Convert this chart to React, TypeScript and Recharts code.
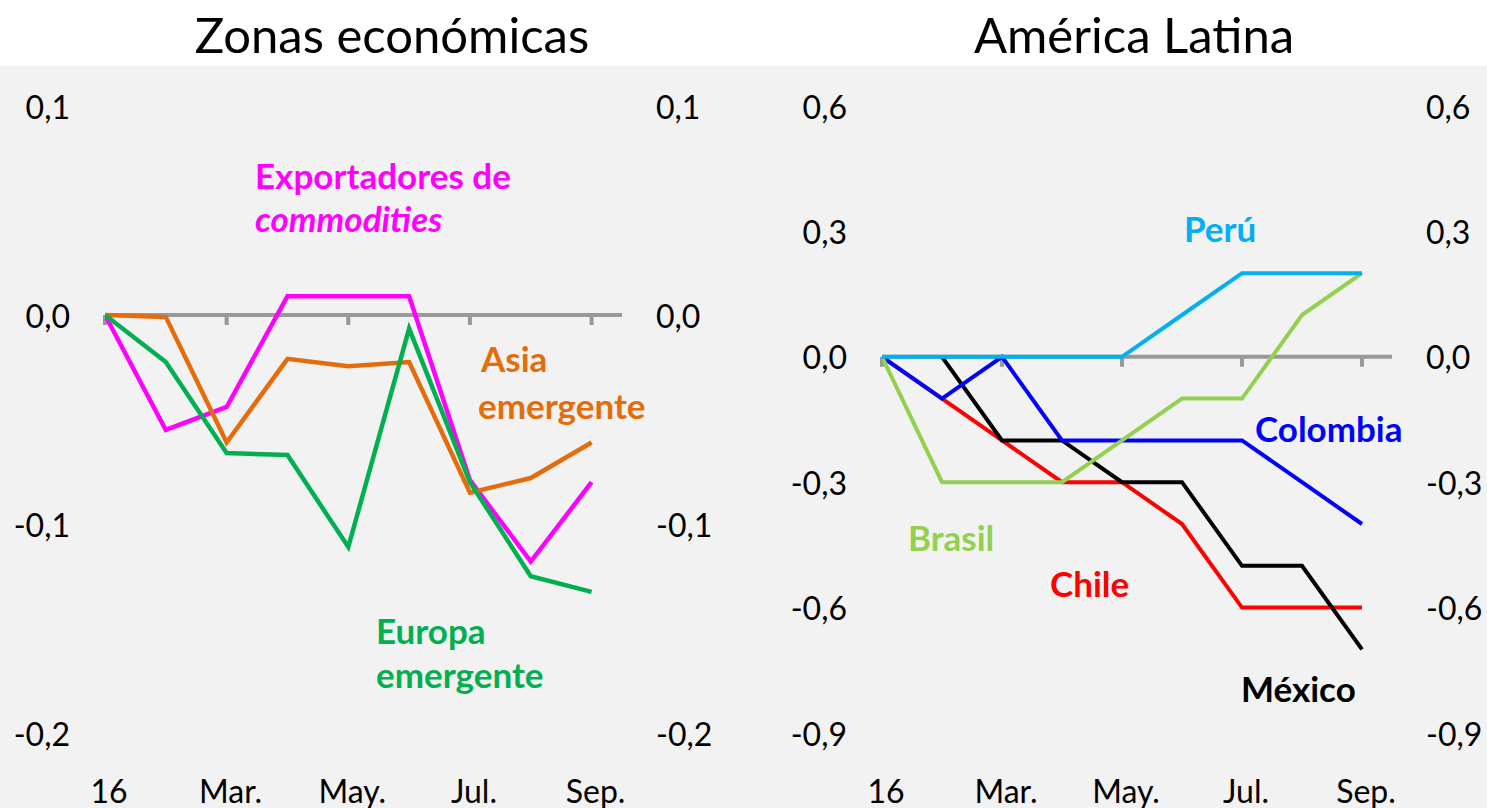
import { LineChart, Line, XAxis, YAxis, ReferenceLine } from 'recharts';

const monthLabels = ['16', 'Feb.', 'Mar.', 'Abr.', 'May.', 'Jun.', 'Jul.', 'Ago.', 'Sep.'];
const xTicks = [0, 2, 4, 6, 8];

// Zonas económicas
const exportadores = [0, -0.055, -0.044, 0.009, 0.009, 0.009, -0.079, -0.118, -0.080];
const asiaEmergente = [0, -0.001, -0.061, -0.021, -0.0245, -0.0225, -0.085, -0.078, -0.061];
const europaEmergente = [0, -0.0225, -0.066, -0.067, -0.111, -0.0065, -0.080, -0.125, -0.1325];
const leftTicks = [-0.2, -0.1, 0, 0.1];

// América Latina
const peru = [0, 0, 0, 0, 0, 0.1, 0.2, 0.2, 0.2];
const brasil = [0, -0.3, -0.3, -0.3, -0.2, -0.1, -0.1, 0.1, 0.2];
const colombia = [0, -0.1, 0, -0.2, -0.2, -0.2, -0.2, -0.3, -0.4];
const chile = [0, -0.1, -0.2, -0.3, -0.3, -0.4, -0.6, -0.6, -0.6];
const mexico = [null, 0, -0.2, -0.2, -0.3, -0.3, -0.5, -0.5, -0.7];
const rightTicks = [-0.9, -0.6, -0.3, 0, 0.3, 0.6];

const zonasData = monthLabels.map((_, i) => ({
  m: i,
  exportadores: exportadores[i],
  asia: asiaEmergente[i],
  europa: europaEmergente[i],
}));

const latamData = monthLabels.map((_, i) => ({
  m: i,
  peru: peru[i],
  brasil: brasil[i],
  colombia: colombia[i],
  chile: chile[i],
  mexico: mexico[i],
}));

const FONT = 'Lato, "Open Sans", sans-serif';
const CHART_H = 742;
const PLOT_TOP = 40;
const X_AXIS_H = 75;
const PLOT_H = CHART_H - PLOT_TOP - X_AXIS_H;

const fmt = (v: number) => v.toFixed(1).replace('.', ',');

function YTick({ y, payload, tx, anchor }: any) {
  return (
    <text x={tx} y={y} textAnchor={anchor} dominantBaseline="central" fontSize={32} fill="#000" fontFamily={FONT}>
      {fmt(payload.value)}
    </text>
  );
}

function XTick({ x, payload }: any) {
  return (
    <text x={x + 4} y={CHART_H - 18} textAnchor="middle" dominantBaseline="central" fontSize={32} fill="#000" fontFamily={FONT}>
      {monthLabels[payload.value]}
    </text>
  );
}

function tickMarks(domain: [number, number]) {
  const len = ((domain[1] - domain[0]) * 10) / PLOT_H;
  return xTicks.map((t) => (
    <ReferenceLine
      key={t}
      yAxisId="l"
      segment={[{ x: t, y: 0 }, { x: t, y: -len }]}
      stroke="#999"
      strokeWidth={4}
    />
  ));
}

function Label({ text, x, y, color, italic }: any) {
  return (
    <div
      style={{
        position: 'absolute',
        left: x,
        top: y,
        color,
        fontFamily: FONT,
        fontWeight: 700,
        fontStyle: italic ? 'italic' : 'normal',
        fontSize: 35,
        lineHeight: '36px',
        whiteSpace: 'nowrap',
      }}
    >
      {text}
    </div>
  );
}

export default function App() {
  const lDom: [number, number] = [-0.2, 0.1];
  const rDom: [number, number] = [-0.9, 0.6];
  return (
    <div style={{ position: 'absolute', left: 0, top: 0, width: 1487, height: 808, background: '#fff', overflow: 'hidden' }}>
      <div style={{ position: 'absolute', left: 0, top: 66, width: 1487, height: 742, background: '#f2f2f2' }} />
      <div style={{ position: 'absolute', left: 0, width: 784, top: 3, textAlign: 'center', fontFamily: FONT, fontSize: 49, lineHeight: '62px' }}>
        Zonas económicas
      </div>
      <div style={{ position: 'absolute', left: 743, width: 782, top: 3, textAlign: 'center', fontFamily: FONT, fontSize: 49, lineHeight: '62px' }}>
        América Latina
      </div>

      <div style={{ position: 'absolute', left: 0, top: 66 }}>
        <LineChart width={743} height={CHART_H} data={zonasData} margin={{ top: PLOT_TOP, right: 0, bottom: 0, left: 0 }}>
          <XAxis type="number" dataKey="m" domain={[0, 8.5]} ticks={xTicks} axisLine={false} tickLine={false} height={X_AXIS_H} tick={<XTick />} allowDataOverflow />
          <YAxis yAxisId="l" domain={lDom} ticks={leftTicks} width={105} axisLine={false} tickLine={false} tick={<YTick tx={70} anchor="end" />} />
          <YAxis yAxisId="r" orientation="right" domain={lDom} ticks={leftTicks} width={121} axisLine={false} tickLine={false} tick={<YTick tx={656} anchor="start" />} />
          <ReferenceLine yAxisId="l" y={0} stroke="#999" strokeWidth={4} />
          {tickMarks(lDom)}
          <Line yAxisId="r" dataKey="asia" stroke="none" strokeWidth={0} dot={false} activeDot={false} legendType="none" isAnimationActive={false} />
          <Line yAxisId="l" dataKey="exportadores" stroke="#FF00FF" strokeWidth={4.5} dot={false} isAnimationActive={false} />
          <Line yAxisId="l" dataKey="asia" stroke="#E46C0A" strokeWidth={4.5} dot={false} isAnimationActive={false} />
          <Line yAxisId="l" dataKey="europa" stroke="#00B050" strokeWidth={4.5} dot={false} isAnimationActive={false} />
        </LineChart>
      </div>

      <div style={{ position: 'absolute', left: 743, top: 66 }}>
        <LineChart width={744} height={CHART_H} data={latamData} margin={{ top: PLOT_TOP, right: 0, bottom: 0, left: 0 }}>
          <XAxis type="number" dataKey="m" domain={[0, 8.5]} ticks={xTicks} axisLine={false} tickLine={false} height={X_AXIS_H} tick={<XTick />} allowDataOverflow />
          <YAxis yAxisId="l" domain={rDom} ticks={rightTicks} width={139} axisLine={false} tickLine={false} tick={<YTick tx={104} anchor="end" />} />
          <YAxis yAxisId="r" orientation="right" domain={rDom} ticks={rightTicks} width={95} axisLine={false} tickLine={false} tick={<YTick tx={683} anchor="start" />} />
          <ReferenceLine yAxisId="l" y={0} stroke="#999" strokeWidth={4} />
          {tickMarks(rDom)}
          <Line yAxisId="r" dataKey="peru" stroke="none" strokeWidth={0} dot={false} activeDot={false} legendType="none" isAnimationActive={false} />
          <Line yAxisId="l" dataKey="chile" stroke="#FF0000" strokeWidth={4} dot={false} isAnimationActive={false} />
          <Line yAxisId="l" dataKey="mexico" stroke="#000000" strokeWidth={4} dot={false} isAnimationActive={false} />
          <Line yAxisId="l" dataKey="colombia" stroke="#0000FF" strokeWidth={4} dot={false} isAnimationActive={false} />
          <Line yAxisId="l" dataKey="brasil" stroke="#92D050" strokeWidth={4} dot={false} isAnimationActive={false} />
          <Line yAxisId="l" dataKey="peru" stroke="#00B0F0" strokeWidth={4} dot={false} isAnimationActive={false} />
        </LineChart>
      </div>

      <Label text="Exportadores de" x={255} y={157} color="#FF00FF" />
      <Label text="commodities" x={255} y={200} color="#FF00FF" italic />
      <Label text="Asia" x={481} y={340} color="#E46C0A" />
      <Label text="emergente" x={478} y={387} color="#E46C0A" />
      <Label text="Europa" x={376} y={612} color="#00B050" />
      <Label text="emergente" x={376} y={656} color="#00B050" />

      <Label text="Perú" x={1184} y={210} color="#00B0F0" />
      <Label text="Colombia" x={1255} y={410} color="#0000FF" />
      <Label text="Brasil" x={908} y={519} color="#92D050" />
      <Label text="Chile" x={1050} y={565} color="#FF0000" />
      <Label text="México" x={1241} y={670} color="#000000" />
    </div>
  );
}
